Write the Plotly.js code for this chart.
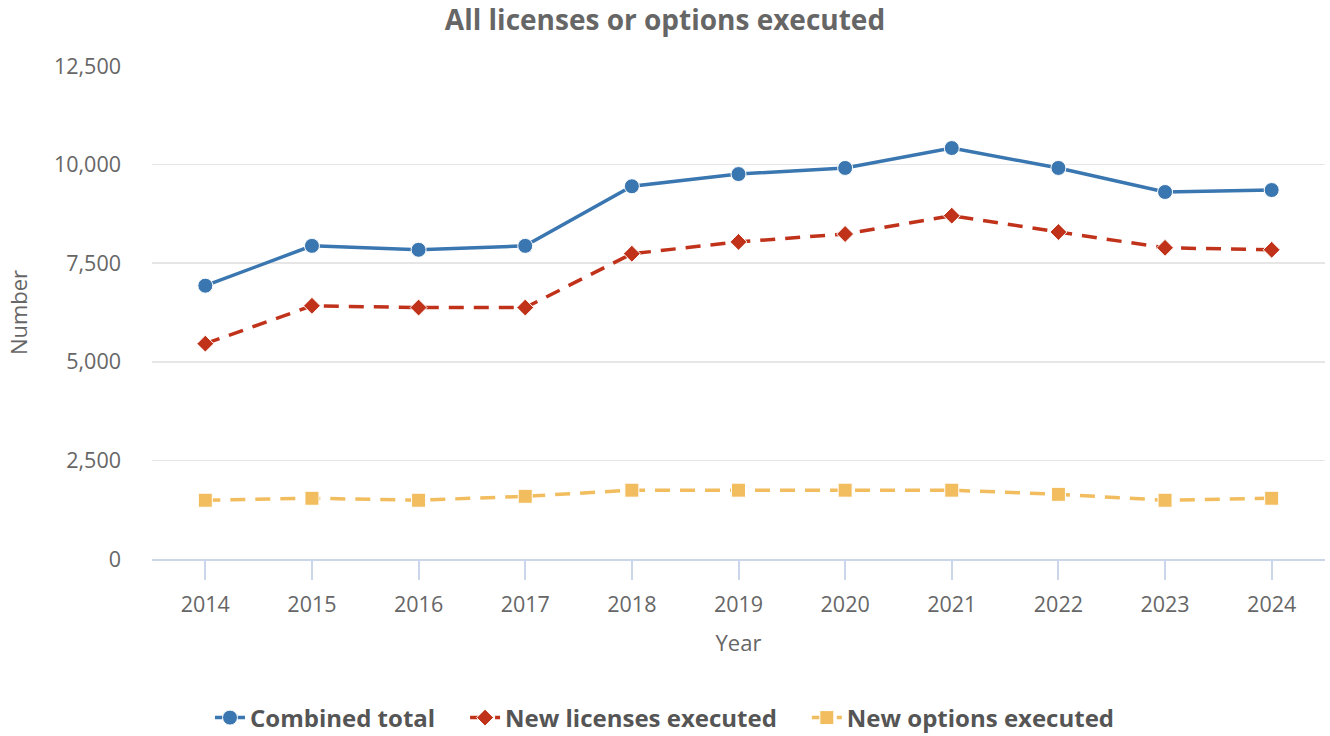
<!DOCTYPE html>
<html>
<head>
<meta charset="utf-8">
<script src="https://cdn.plot.ly/plotly-3.0.1.min.js"></script>
<style>html,body{margin:0;padding:0;background:#fff;}#chart{width:1330px;height:736px;}</style>
</head>
<body>
<div id="chart"></div>
<script>
const years = [2014, 2015, 2016, 2017, 2018, 2019, 2020, 2021, 2022, 2023, 2024];
const combinedTotal = [6930, 7940, 7840, 7940, 9450, 9760, 9915, 10420, 9915, 9305, 9355];
const newLicenses = [5460, 6420, 6375, 6375, 7740, 8040, 8240, 8705, 8290, 7890, 7840];
const newOptions = [1490, 1540, 1490, 1590, 1745, 1745, 1745, 1745, 1640, 1490, 1540];
const yTicks = [0, 2500, 5000, 7500, 10000, 12500];
const yTickLabels = ["0", "2,500", "5,000", "7,500", "10,000", "12,500"];
const seriesNames = ['Combined total', 'New licenses executed', 'New options executed'];

const FONT = '"Open Sans", "Noto Sans", sans-serif';
const PAD = '\u00a0\u00a0\u00a0\u00a0';

const traces = [
  {
    x: years, y: combinedTotal, name: seriesNames[0] + PAD, type: 'scatter', mode: 'lines+markers',
    line: {color: '#3a76b0', width: 3.5},
    marker: {symbol: 'circle', size: 15, color: '#3a76b0', line: {color: '#ffffff', width: 1}}
  },
  {
    x: years, y: newLicenses, name: seriesNames[1] + PAD, type: 'scatter', mode: 'lines+markers',
    line: {color: '#c0321a', width: 3.5, dash: '15px,10px'},
    marker: {symbol: 'diamond', size: 13, color: '#c0321a', line: {color: '#ffffff', width: 1}}
  },
  {
    x: years, y: newOptions, name: seriesNames[2], type: 'scatter', mode: 'lines+markers',
    line: {color: '#f2bd5e', width: 3.5, dash: '15px,10px'},
    marker: {symbol: 'square', size: 14, color: '#f2bd5e', line: {color: '#ffffff', width: 1}}
  }
];

const layout = {
  width: 1330, height: 736,
  margin: {l: 152, r: 5, t: 66, b: 177},
  paper_bgcolor: '#ffffff', plot_bgcolor: '#ffffff',
  font: {family: FONT, color: '#666666', size: 21},
  title: {
    text: '<b>All licenses or options executed</b>',
    font: {family: FONT, size: 28, color: '#666666'},
    xref: 'container', x: 0.5, xanchor: 'center',
    yref: 'container', y: 1 - 20/736, yanchor: 'middle'
  },
  xaxis: {
    range: [2013.5, 2024.5],
    tickvals: years, ticktext: years.map(String),
    showgrid: false, zeroline: false,
    showline: true, linecolor: '#ccd6eb', linewidth: 2,
    ticks: 'outside', ticklen: 19, tickwidth: 2, tickcolor: '#ccd6eb',
    ticklabelstandoff: 6,
    tickfont: {family: FONT, size: 21.5, color: '#666666'},
    title: {text: 'Year', font: {family: FONT, size: 22, color: '#666666'}, standoff: 19}
  },
  yaxis: {
    range: [0, 12500],
    tickvals: yTicks, ticktext: yTickLabels,
    showgrid: true, gridcolor: '#e6e6e6', gridwidth: 1.5,
    zeroline: false, showline: false, ticks: '',
    ticklabelstandoff: 30,
    tickfont: {family: FONT, size: 21.5, color: '#666666'},
    title: {text: 'Number', font: {family: FONT, size: 22, color: '#666666'}, standoff: 20}
  },
  showlegend: true,
  legend: {
    orientation: 'h',
    xref: 'container', x: 0.5, xanchor: 'center',
    yref: 'container', y: 1 - 718/736, yanchor: 'middle',
    font: {family: FONT, size: 24, color: '#555555', weight: 'bold'},
    itemwidth: 30
  },
  hovermode: false
};

Plotly.newPlot('chart', traces, layout, {displayModeBar: false, staticPlot: true});
</script>
</body>
</html>
